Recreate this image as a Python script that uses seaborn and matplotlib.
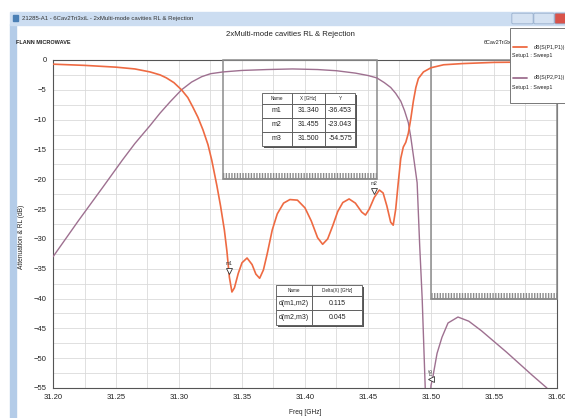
## HFSS-style plot: 2xMulti-mode cavities RL & Rejection
import matplotlib
matplotlib.use("Agg")
import numpy as np
import pandas as pd
import matplotlib.pyplot as plt
import matplotlib.patches as patches
from matplotlib.ticker import MultipleLocator, FormatStrFormatter
from matplotlib.transforms import offset_copy
import seaborn as sns

##########################################################################
## 1. Data
##########################################################################

## dB(S(P1,P1)) - return loss
rl_freq = [31.200, 31.225, 31.250, 31.265, 31.277, 31.285, 31.290, 31.296, 31.302,
           31.307, 31.311, 31.315, 31.319, 31.323, 31.326, 31.330, 31.333, 31.336,
           31.338, 31.340, 31.342, 31.344, 31.347, 31.350, 31.354, 31.358, 31.361,
           31.364, 31.367, 31.370, 31.374, 31.378, 31.383, 31.388, 31.394, 31.400,
           31.405, 31.410, 31.414, 31.418, 31.422, 31.426, 31.430, 31.435, 31.440,
           31.445, 31.448, 31.451, 31.455, 31.459, 31.462, 31.465, 31.468, 31.470,
           31.472, 31.474, 31.476, 31.478, 31.480, 31.482, 31.484, 31.486, 31.488,
           31.490, 31.494, 31.500, 31.510, 31.525, 31.550, 31.575, 31.600]
rl_db = [-0.7, -0.9, -1.2, -1.5, -2.0, -2.5, -3.0, -3.8, -5.0,
         -6.3, -7.9, -9.6, -11.7, -14.2, -16.8, -21.0, -24.5, -28.5,
         -32.0, -36.45, -38.9, -38.2, -35.8, -34.0, -33.2, -34.3, -35.9,
         -36.6, -35.2, -32.5, -28.5, -25.8, -24.0, -23.4, -23.5, -24.8,
         -27.0, -29.8, -30.9, -30.0, -27.8, -25.4, -23.9, -23.3, -24.0,
         -25.5, -26.0, -25.0, -23.04, -21.8, -22.3, -24.5, -27.2, -27.7,
         -25.0, -20.6, -16.5, -14.6, -13.8, -12.3, -9.8, -6.9, -4.6,
         -3.1, -2.0, -1.3, -0.8, -0.6, -0.4, -0.35, -0.3]

## dB(S(P2,P1)) - rejection
rej_freq = [31.200, 31.220, 31.240, 31.255, 31.265, 31.277, 31.285, 31.293, 31.302,
            31.310, 31.318, 31.325, 31.335, 31.350, 31.370, 31.390, 31.410, 31.425,
            31.440, 31.450, 31.457, 31.463, 31.468, 31.472, 31.476, 31.479, 31.482,
            31.484, 31.486, 31.489, 31.491, 31.493, 31.4955, 31.4975, 31.499, 31.500,
            31.5016, 31.5048, 31.5087, 31.5135, 31.5214, 31.530, 31.540, 31.550,
            31.560, 31.570, 31.580, 31.592]
rej_db = [-33.0, -27.0, -21.2, -16.8, -14.0, -11.0, -8.9, -7.0, -5.0,
          -3.7, -2.8, -2.3, -2.0, -1.75, -1.6, -1.5, -1.6, -1.8,
          -2.2, -2.6, -3.0, -3.8, -4.6, -5.6, -6.9, -8.5, -10.5,
          -13.0, -16.0, -20.6, -31.0, -40.0, -55.5, -62.0, -58.0, -54.575,
          -53.0, -49.2, -46.5, -44.1, -43.1, -43.8, -45.4, -47.2,
          -49.0, -50.9, -52.8, -55.0]

## markers
marker_names = ["m1", "m2", "m3"]
marker_freq = [31.340, 31.455, 31.500]
marker_db = [-36.453, -23.043, -54.575]

## marker deltas
delta_names = ["d(m1,m2)", "d(m2,m3)"]
delta_vals = [0.115, 0.045]

## spec masks: [f_start, f_stop, level]
rl_mask = [31.335, 31.457, -20]
rej_mask = [31.500, 31.600, -40]

W, H = 565, 418
RED = "#EE6A42"
PURPLE = "#9E7090"
GRID = "#DADADA"
MASK = "#8C8C8C"

def fx(px):
    return px / W

def fy(py):
    return 1 - py / H

##########################################################################
## 2. Figure
##########################################################################

sns.set_style("white")
plt.rcParams["font.family"] = ["Liberation Sans", "DejaVu Sans"]

fig = plt.figure(figsize=(W / 100, H / 100), dpi=100)
fig.patch.set_facecolor("white")

## window chrome
fig.patches.append(patches.Rectangle((fx(10), fy(418)), fx(6), fy(24) - fy(418),
                                     transform=fig.transFigure, color="#B4CCE8", zorder=0))
fig.patches.append(patches.Rectangle((fx(10), fy(25)), 1, fy(12) - fy(25),
                                     transform=fig.transFigure, color="#CCDDF1", zorder=0))
fig.patches.append(patches.Rectangle((fx(13), fy(21)), fx(5), fy(15) - fy(21),
                                     transform=fig.transFigure, color="#4A7FB5", zorder=1))
fig.text(fx(22), fy(18.5), "21285-A1 - 6Cav2Tri3xiL - 2xMulti-mode cavities RL & Rejection",
         fontsize=4.3, color="#333333", va="center", ha="left")
for x0, x1, c in [(513, 532, "#D5E2F2"), (535, 553, "#D5E2F2"), (556, 580, "#D9534A")]:
    fig.patches.append(patches.FancyBboxPatch((fx(x0), fy(23)), fx(x1 - x0), fy(14) - fy(23),
                                              boxstyle="round,pad=0.002", transform=fig.transFigure,
                                              facecolor=c, edgecolor="#8DA6C6", lw=0.5, zorder=1))

fig.text(fx(290), fy(35), "2xMulti-mode cavities RL & Rejection", fontsize=5.6,
         ha="center", va="center", color="#222222")
fig.text(fx(16), fy(42), "FLANN MICROWAVE", fontsize=4.0, ha="left", va="center",
         color="#222222", fontweight="bold")
fig.text(fx(484), fy(42), "6Cav2Tri3xiL", fontsize=4.0, ha="left", va="center", color="#222222")

ax = fig.add_axes([fx(53), fy(388), fx(557) - fx(53), fy(60) - fy(388)])

## curves
rl_df = pd.DataFrame({"freq": rl_freq, "db": rl_db})
rej_df = pd.DataFrame({"freq": rej_freq, "db": rej_db})
sns.lineplot(data=rej_df, x="freq", y="db", ax=ax, color=PURPLE, lw=1.0, zorder=5)
sns.lineplot(data=rl_df, x="freq", y="db", ax=ax, color=RED, lw=1.2, zorder=6)

ax.set_xlim(31.20, 31.60)
ax.set_ylim(-55, 0)

## grid every 0.025 GHz / 2.5 dB
for gx in np.arange(31.225, 31.6, 0.025):
    ax.axvline(gx, color=GRID, lw=0.6, zorder=0)
for gy in np.arange(-52.5, 0, 2.5):
    ax.axhline(gy, color=GRID, lw=0.6, zorder=0)

## ticks
ax.xaxis.set_major_locator(MultipleLocator(0.05))
ax.xaxis.set_minor_locator(MultipleLocator(0.01))
ax.xaxis.set_major_formatter(FormatStrFormatter("%.2f"))
ax.yaxis.set_major_locator(MultipleLocator(5))
ax.yaxis.set_minor_locator(MultipleLocator(1))
ax.tick_params(axis="both", which="major", direction="inout", length=5, width=0.7,
               labelsize=5.5, colors="#444444", labelcolor="#222222", pad=2)
ax.tick_params(axis="both", which="minor", direction="in", length=2.5, width=0.6, colors="#444444")
ax.tick_params(axis="x", which="both", top=False)
ax.tick_params(axis="y", which="both", right=False)
for s in ax.spines.values():
    s.set_color("#555555")
    s.set_linewidth(0.8)

ax.set_xlabel("Freq [GHz]", fontsize=4.8, color="#222222")
ax.xaxis.set_label_coords(0.5, -0.065)
ax.set_ylabel("Attenuation & RL (dB)", fontsize=4.8, color="#222222")
ax.yaxis.set_label_coords(-0.056, 0.46)

## spec masks
for mask in (rl_mask, rej_mask):
    f0, f1, lev = mask
    ax.add_patch(patches.Rectangle((f0, lev), f1 - f0, -lev, fill=False,
                                   edgecolor=MASK, lw=1.1, zorder=3, clip_on=False))
    ax.add_patch(patches.Rectangle((f0, lev), f1 - f0, 1.0, fill=False, hatch="||||||",
                                   edgecolor=MASK, lw=0.0, zorder=3))
    ax.plot([f0, f1], [lev, lev], color=MASK, lw=1.1, zorder=3)

## markers (triangle above point + label)
for name, f, v in zip(marker_names, marker_freq, marker_db):
    if name == "m3":
        tri = offset_copy(ax.transData, fig=fig, x=0, y=4.5, units="points")
        ax.plot([f], [v], marker="<", ms=4, mfc="white", mec="#333333", mew=0.6,
                transform=tri, zorder=8, clip_on=False)
        ax.annotate(name, xy=(f, v), xytext=(0, 10), textcoords="offset points",
                    fontsize=3.5, rotation=90, ha="center", va="center", color="#333333", zorder=8)
    else:
        tri = offset_copy(ax.transData, fig=fig, x=0, y=4.5, units="points")
        ax.plot([f], [v], marker="v", ms=4, mfc="white", mec="#333333", mew=0.6,
                transform=tri, zorder=8)
        ax.annotate(name, xy=(f, v), xytext=(0, 10), textcoords="offset points",
                    fontsize=3.5, ha="center", va="center", color="#333333", zorder=8)

## marker tables
def marker_table(rows, col_labels, col_widths, px_box):
    x0, y0, x1, y1 = px_box
    ax_x0 = (x0 - 53) / 504
    ax_y0 = (388 - y1) / 328
    bw = (x1 - x0) / 504
    bh = (y1 - y0) / 328
    shadow = patches.Rectangle((ax_x0 + 2 / 504, ax_y0 - 2 / 328), bw, bh, transform=ax.transAxes,
                               facecolor="#555555", edgecolor="none", zorder=9)
    ax.add_patch(shadow)
    tb = ax.table(cellText=rows, colLabels=col_labels, colWidths=col_widths,
                  cellLoc="center", bbox=[ax_x0, ax_y0, bw, bh], zorder=10)
    tb.auto_set_font_size(False)
    tb.set_fontsize(5)
    for (r, c), cell in tb.get_celld().items():
        cell.set_edgecolor("#555555")
        cell.set_linewidth(0.6)
        cell.set_facecolor("white")
        cell.get_text().set_color("#222222")
        if r == 0:
            cell.get_text().set_fontsize(3.3)
            cell.set_height(cell.get_height() * 0.75)
    return tb

marker_table([[n, f"{f:.3f}", f"{v:.3f}"] for n, f, v in zip(marker_names, marker_freq, marker_db)],
             ["Name", "X [GHz]", "Y"], [0.32, 0.36, 0.32], (262, 93, 355, 146))
marker_table([[n, f"{d:.3f}"] for n, d in zip(delta_names, delta_vals)],
             ["Name", "Delta(X) [GHz]"], [0.42, 0.58], (276, 285, 362, 325))

## legend box (partly off-screen, as in the screenshot)
fig.patches.append(patches.Rectangle((fx(510), fy(103)), fx(70), fy(28) - fy(103),
                                     transform=fig.transFigure, facecolor="white",
                                     edgecolor="#777777", lw=0.7, zorder=20))
legend_entries = [("dB(S(P1,P1))", RED, 47), ("dB(S(P2,P1))", PURPLE, 78)]
for label, col, ly in legend_entries:
    fig.lines.append(plt.Line2D([fx(513), fx(527)], [fy(ly), fy(ly)], transform=fig.transFigure,
                                color=col, lw=1.3, zorder=21))
    fig.text(fx(534), fy(ly), label, fontsize=3.8, va="center", ha="left", color="#222222", zorder=21)
    fig.text(fx(512), fy(ly + 9), "Setup1 : Sweep1", fontsize=3.8, va="center", ha="left",
             color="#222222", zorder=21)

fig.savefig("out.png", dpi=100, facecolor="white")
plt.close(fig)
